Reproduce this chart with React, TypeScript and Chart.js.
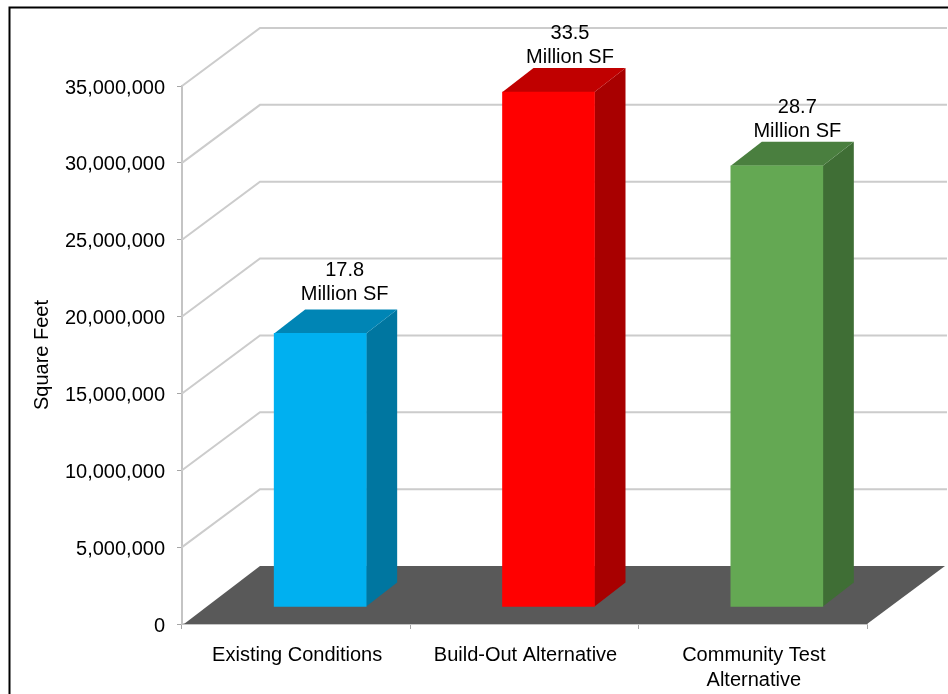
import { useEffect, useRef } from "react";
import { Chart, registerables } from "chart.js";

Chart.register(...registerables);

const categories = ["Existing Conditions", "Build-Out Alternative", ["Community Test", "Alternative"]];
const squareFeet = [17800000, 33500000, 28700000];
const frontColors = ["#00B0F0", "#FF0000", "#64A853"];
const sideColors = ["#0076A0", "#A80000", "#3F6E35"];
const topColors = ["#0085B5", "#C00000", "#4A7F3F"];
const labelNudgeX = [9, 6, 5];
const labelGap = [15, 11, 10];
const axisTitle = "Square Feet";

const FONT = '"Liberation Sans", Arial, sans-serif';
// Oblique depth of the chart box and of each column inside it.
const BOX_DX = 78;
const BOX_DY = 58;
const BAR_SHIFT_X = 24;
const BAR_SHIFT_Y = -17;
const BAR_DX = 31;
const BAR_DY = 24;

function poly(ctx: CanvasRenderingContext2D, pts: number[][], fill: string) {
  ctx.beginPath();
  pts.forEach(([x, y], i) => (i ? ctx.lineTo(x, y) : ctx.moveTo(x, y)));
  ctx.closePath();
  ctx.fillStyle = fill;
  ctx.fill();
}

const box3d = {
  id: "box3d",
  beforeDraw(chart: any) {
    const { ctx, width, height } = chart;
    ctx.save();
    ctx.fillStyle = "#ffffff";
    ctx.fillRect(0, 0, width, height);
    ctx.strokeStyle = "#000000";
    ctx.lineWidth = 2;
    ctx.strokeRect(9.5, 7.5, width + 40, height + 40);
    ctx.restore();
  },
  beforeDatasetsDraw(chart: any) {
    const { ctx, chartArea, scales } = chart;
    const { left, right, bottom } = chartArea;
    ctx.save();
    ctx.strokeStyle = "#cccccc";
    ctx.lineWidth = 2;
    scales.y.ticks.forEach((t: any) => {
      if (t.value === 0) return;
      const y = scales.y.getPixelForValue(t.value);
      ctx.beginPath();
      ctx.moveTo(left, y);
      ctx.lineTo(left + BOX_DX, y - BOX_DY);
      ctx.lineTo(right + BOX_DX + 2, y - BOX_DY);
      ctx.stroke();
    });
    poly(
      ctx,
      [
        [left + 2, bottom],
        [right, bottom],
        [right + BOX_DX, bottom - BOX_DY],
        [left + BOX_DX, bottom - BOX_DY],
      ],
      "#595959"
    );
    ctx.restore();
  },
  beforeDatasetDraw(chart: any, args: any) {
    const { ctx } = chart;
    ctx.save();
    ctx.translate(BAR_SHIFT_X, BAR_SHIFT_Y);
    args.meta.data.forEach((el: any, i: number) => {
      const x2 = el.x + el.width / 2;
      const x1 = el.x - el.width / 2;
      poly(
        ctx,
        [
          [x2, el.y],
          [x2 + BAR_DX, el.y - BAR_DY],
          [x2 + BAR_DX, el.base - BAR_DY],
          [x2, el.base],
        ],
        sideColors[i]
      );
      poly(
        ctx,
        [
          [x1, el.y],
          [x1 + BAR_DX, el.y - BAR_DY],
          [x2 + BAR_DX, el.y - BAR_DY],
          [x2, el.y],
        ],
        topColors[i]
      );
    });
  },
  afterDatasetDraw(chart: any) {
    chart.ctx.restore();
  },
  afterDatasetsDraw(chart: any) {
    const { ctx } = chart;
    const meta = chart.getDatasetMeta(0);
    ctx.save();
    ctx.fillStyle = "#000000";
    ctx.font = `20px ${FONT}`;
    ctx.textAlign = "center";
    ctx.textBaseline = "middle";
    meta.data.forEach((el: any, i: number) => {
      const cx = el.x + BAR_SHIFT_X + BAR_DX / 2 + labelNudgeX[i];
      const top = el.y + BAR_SHIFT_Y - BAR_DY;
      ctx.fillText((squareFeet[i] / 1e6).toFixed(1), cx, top - labelGap[i] - 24);
      ctx.fillText("Million SF", cx, top - labelGap[i]);
    });
    ctx.restore();
  },
};

export default function App() {
  const ref = useRef<HTMLCanvasElement>(null);
  useEffect(() => {
    document.body.style.margin = "0";
    document.body.style.overflow = "hidden";
    const chart = new Chart(ref.current as HTMLCanvasElement, {
      type: "bar",
      data: {
        labels: categories as any,
        datasets: [
          {
            data: squareFeet,
            backgroundColor: frontColors,
            barThickness: 92,
            clip: false as any,
          },
        ],
      },
      plugins: [box3d],
      options: {
        animation: false,
        responsive: false,
        layout: { padding: { top: 86, right: 81, left: 0, bottom: 0 } },
        plugins: { legend: { display: false }, tooltip: { enabled: false } },
        scales: {
          x: {
            afterFit: (s: any) => {
              s.height = 70;
            },
            grid: { drawOnChartArea: false, tickLength: 5, color: "#a6a6a6" },
            border: { color: "#c4c4c4", width: 2 },
            ticks: {
              color: "#000000",
              font: { family: FONT, size: 20, lineHeight: 1.25 },
              padding: 14,
              labelOffset: 1,
              maxRotation: 0,
              autoSkip: false,
            },
          },
          y: {
            min: 0,
            max: 35000000,
            afterFit: (s: any) => {
              s.width = 182;
            },
            title: {
              display: true,
              text: axisTitle,
              color: "#000000",
              font: { family: FONT, size: 20 },
              padding: { top: 30, bottom: 0 },
            },
            grid: { drawOnChartArea: false, tickLength: 5, color: "#a6a6a6" },
            border: { color: "#c4c4c4", width: 2 },
            ticks: {
              stepSize: 5000000,
              color: "#000000",
              font: { family: FONT, size: 20 },
              padding: 12,
              labelOffset: 2,
              callback: (v: any) => Number(v).toLocaleString("en-US"),
            },
          },
        },
      },
    });
    return () => chart.destroy();
  }, []);
  return <canvas ref={ref} width={948} height={694} style={{ display: "block" }} />;
}
